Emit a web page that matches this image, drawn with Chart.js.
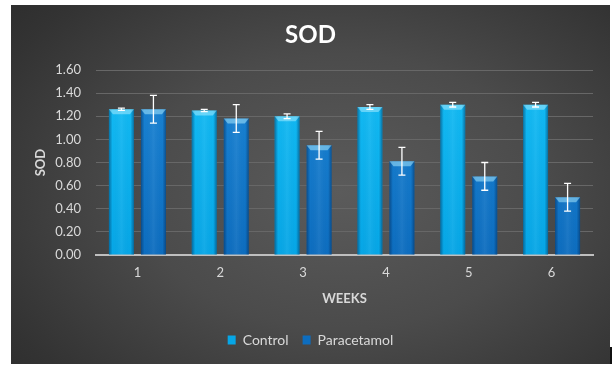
<!DOCTYPE html>
<html>
<head>
<meta charset="utf-8">
<script src="https://cdn.jsdelivr.net/npm/chart.js@4"></script>
<style>
  body { margin: 0; background: #fff; width: 615px; height: 372px; position: relative; overflow: hidden; }
  #panel {
    position: absolute; left: 11px; top: 5px; width: 599px; height: 359px;
    background: radial-gradient(ellipse 75% 85% at 55% 52%, #5b5b5b 0%, #4b4b4b 45%, #333 85%, #2c2c2c 100%);
  }
  #mark { position: absolute; left: 610px; top: 347px; width: 2px; height: 17px; background: #111; }
</style>
</head>
<body>
<div id="panel"><canvas id="sodChart" width="599" height="359"></canvas></div>
<div id="mark"></div>
<script>
const weeks = ["1", "2", "3", "4", "5", "6"];
const controlValues = [1.26, 1.25, 1.20, 1.28, 1.30, 1.30];
const controlErrors = [0.01, 0.01, 0.02, 0.02, 0.02, 0.02];
const paracetamolValues = [1.26, 1.18, 0.95, 0.81, 0.68, 0.50];
const paracetamolErrors = [0.12, 0.12, 0.12, 0.12, 0.12, 0.12];
const errors = [controlErrors, paracetamolErrors];

const textColor = "#d9d9d9";
const fontFamily = "Lato, 'Open Sans', sans-serif";

function verticalGradient(top, bottom) {
  return (context) => {
    const area = context.chart.chartArea;
    if (!area) return top;
    const g = context.chart.ctx.createLinearGradient(0, area.top, 0, area.bottom);
    g.addColorStop(0, top);
    g.addColorStop(1, bottom);
    return g;
  };
}

// cylinder-like shading and bevelled top, drawn on the bars chart.js placed
const barShading = {
  id: "barShading",
  afterDatasetsDraw(chart) {
    const ctx = chart.ctx;
    chart.data.datasets.forEach((ds, di) => {
      chart.getDatasetMeta(di).data.forEach((bar) => {
        const left = bar.x - bar.width / 2;
        const right = bar.x + bar.width / 2;
        const top = bar.y;
        const bottom = bar.base;
        const g = ctx.createLinearGradient(left, 0, right, 0);
        g.addColorStop(0, "rgba(0,30,70,0.45)");
        g.addColorStop(0.14, "rgba(0,30,70,0.0)");
        g.addColorStop(0.5, "rgba(255,255,255,0.06)");
        g.addColorStop(0.86, "rgba(0,30,70,0.0)");
        g.addColorStop(1, "rgba(0,30,70,0.45)");
        ctx.save();
        ctx.fillStyle = g;
        ctx.fillRect(left, top, right - left, bottom - top);
        ctx.beginPath();
        ctx.moveTo(left, top);
        ctx.lineTo(right, top);
        ctx.lineTo(right - 4, top + 5);
        ctx.lineTo(left + 4, top + 5);
        ctx.closePath();
        ctx.fillStyle = "rgba(180,240,255,0.5)";
        ctx.fill();
        ctx.restore();
      });
    });
  },
};

const errorBars = {
  id: "errorBars",
  afterDatasetsDraw(chart) {
    const ctx = chart.ctx;
    const y = chart.scales.y;
    chart.data.datasets.forEach((ds, di) => {
      chart.getDatasetMeta(di).data.forEach((bar, i) => {
        const v = ds.data[i];
        const e = errors[di][i];
        const yTop = y.getPixelForValue(v + e);
        const yBot = y.getPixelForValue(v - e);
        ctx.save();
        ctx.strokeStyle = "#ffffff";
        ctx.lineWidth = 1.3;
        ctx.beginPath();
        ctx.moveTo(bar.x, yTop);
        ctx.lineTo(bar.x, yBot);
        ctx.moveTo(bar.x - 3.5, yTop);
        ctx.lineTo(bar.x + 3.5, yTop);
        ctx.moveTo(bar.x - 3.5, yBot);
        ctx.lineTo(bar.x + 3.5, yBot);
        ctx.stroke();
        ctx.restore();
      });
    });
  },
};

new Chart(document.getElementById("sodChart"), {
  type: "bar",
  data: {
    labels: weeks,
    datasets: [
      {
        label: "Control",
        data: controlValues,
        backgroundColor: verticalGradient("#14bdf5", "#06a6e6"),
        borderWidth: 0,
        barPercentage: 0.78,
        categoryPercentage: 0.773,
      },
      {
        label: "Paracetamol",
        data: paracetamolValues,
        backgroundColor: verticalGradient("#1b86d6", "#0d6dbf"),
        borderWidth: 0,
        barPercentage: 0.78,
        categoryPercentage: 0.773,
      },
    ],
  },
  options: {
    responsive: false,
    animation: false,
    layout: { padding: { left: 0, right: 0, top: 0, bottom: 7 } },
    scales: {
      x: {
        grid: { display: false, drawTicks: false },
        border: { color: "#bfbfbf", width: 2 },
        ticks: { color: textColor, font: { family: fontFamily, size: 13 }, padding: 10 },
        title: {
          display: true,
          text: "WEEKS",
          color: textColor,
          font: { family: fontFamily, size: 13, weight: "bold" },
          padding: { top: 4, bottom: 12.5 },
        },
        afterFit: (scale) => { scale.height = 64; },
      },
      y: {
        min: 0,
        max: 1.6,
        grid: { color: "#676767", lineWidth: 1, drawTicks: false },
        border: { display: false },
        ticks: {
          stepSize: 0.2,
          color: textColor,
          font: { family: fontFamily, size: 13 },
          padding: 15,
          callback: (v) => v.toFixed(2),
        },
        title: {
          display: true,
          text: "SOD",
          color: textColor,
          font: { family: fontFamily, size: 13, weight: "bold" },
          padding: { top: 22, bottom: 0 },
        },
        afterFit: (scale) => { scale.width = 85; },
      },
      // empty right-hand strip so the plot stops short of the edge while title and legend stay centred
      yRight: {
        position: "right",
        grid: { display: false, drawTicks: false },
        border: { display: false },
        ticks: { display: false },
        afterFit: (scale) => { scale.width = 17; },
      },
    },
    plugins: {
      title: {
        display: true,
        text: "SOD",
        color: "#ffffff",
        font: { family: fontFamily, size: 24, weight: "bold" },
        padding: { top: 15.6, bottom: 20.6 },
      },
      legend: {
        position: "bottom",
        labels: {
          color: textColor,
          font: { family: fontFamily, size: 14 },
          boxWidth: 8,
          boxHeight: 9,
          padding: 14,
        },
      },
      tooltip: { enabled: false },
    },
  },
  plugins: [barShading, errorBars],
});
</script>
</body>
</html>
